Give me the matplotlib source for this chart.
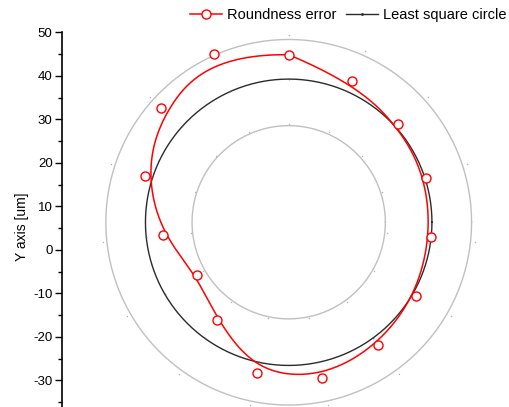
import numpy as np
import matplotlib.pyplot as plt
from matplotlib.lines import Line2D

plt.rcParams['font.family'] = ['Liberation Sans', 'DejaVu Sans']
plt.rcParams['axes.unicode_minus'] = False

# measured profile: angle (deg) and radius (um), clockwise from the top
theta_deg = [90, 66, 42, 18, -6, -30, -54, -78, -102, -126, -150, -174, 162, 138, 114]
r_err = [38.5, 35.5, 33.9, 33.2, 32.8, 33.7, 35.0, 36.6, 35.5, 27.9, 24.4, 29.1, 34.6, 39.4, 42.4]
r_lsc = 32.9             # least square circle radius
grid_r = [22.2, 42.0]    # polar grid circles
dot_r = [22.6, 43.0]     # faint grid dots
center = (52.0, 6.35)    # circle centre in axis units


def to_xy(th, r):
    th = np.radians(np.asarray(th, float))
    r = np.asarray(r, float)
    return center[0] + r * np.cos(th), center[1] + r * np.sin(th)


def bspline(pts, k=3, num=800):
    # clamped cubic B-spline, control points = data points
    n = len(pts)
    knots = np.concatenate([np.zeros(k), np.linspace(0, 1, n - k + 1), np.ones(k)])
    u = np.linspace(0, 1 - 1e-9, num)
    N = np.zeros((num, len(knots) - 1))
    for i in range(len(knots) - 1):
        N[:, i] = (u >= knots[i]) & (u < knots[i + 1])
    for d in range(1, k + 1):
        Nn = np.zeros((num, len(knots) - 1 - d))
        for i in range(len(knots) - 1 - d):
            a = knots[i + d] - knots[i]
            b = knots[i + d + 1] - knots[i + 1]
            t1 = (u - knots[i]) / a * N[:, i] if a > 0 else 0
            t2 = (knots[i + d + 1] - u) / b * N[:, i + 1] if b > 0 else 0
            Nn[:, i] = t1 + t2
        N = Nn
    return N @ pts


fig = plt.figure(figsize=(5.09, 4.07), dpi=100)
ax = fig.add_axes([62.3 / 509, 0, 446.7 / 509, 374.7 / 407])
ax.set_ylim(-36.1, 50)
ax.set_xlim(0, 102.6)

# grid circles
t = np.linspace(0, 360, 721)
for rg in grid_r:
    gx, gy = to_xy(t, np.full_like(t, rg))
    ax.plot(gx, gy, color='#c0c0c0', lw=1.0, zorder=1)
for rd in dot_r:
    dx, dy = to_xy(theta_deg, np.full(len(theta_deg), rd))
    ax.plot(dx, dy, ls='none', marker='o', ms=1.0, mew=0, color='#b0b0b0', zorder=1)

# least square circle
cx, cy = to_xy(t, np.full_like(t, r_lsc))
ax.plot(cx, cy, color='#2a2a2a', lw=1.0, zorder=2)
lx, ly = to_xy(theta_deg, np.full(len(theta_deg), r_lsc))
ax.plot(lx, ly, ls='none', marker='o', ms=1.2, mew=0, color='#555555', zorder=2)

# roundness error: B-spline through the closed point list
ex, ey = to_xy(theta_deg, r_err)
pts = np.column_stack([np.append(ex, ex[0]), np.append(ey, ey[0])])
curve = bspline(pts)
ax.plot(curve[:, 0], curve[:, 1], color='#ff0000', lw=1.1, zorder=3)
ax.plot(ex, ey, ls='none', marker='o', ms=6.5, mfc='white', mec='#ff0000', mew=1.0, zorder=4)

# axes styling
for s in ['top', 'right', 'bottom']:
    ax.spines[s].set_visible(False)
ax.spines['left'].set_linewidth(1.2)
ax.set_xticks([])
ax.set_yticks(np.arange(-30, 51, 10))
ax.set_yticks(np.arange(-35, 51, 5), minor=True)
ax.tick_params(axis='y', which='major', direction='out', length=5, width=1, labelsize=9.5, pad=2)
ax.tick_params(axis='y', which='minor', direction='out', length=3, width=1)
ax.set_ylabel('Y axis [um]', fontsize=10)
ax.yaxis.set_label_coords(-0.074, 0.48)

handles = [
    Line2D([], [], color='#ff0000', lw=1.1, marker='o', ms=6.5, mfc='white', mec='#ff0000', mew=1.0),
    Line2D([], [], color='#2a2a2a', lw=1.0, marker='o', ms=2, mew=0),
]
fig.legend(handles, ['Roundness error', 'Least square circle'], loc='upper right',
           bbox_to_anchor=(1.02, 1.013), ncol=2, frameon=False, fontsize=10.5,
           handlelength=2.2, handletextpad=0.3, columnspacing=0.7)

fig.savefig('out.png', dpi=100)
